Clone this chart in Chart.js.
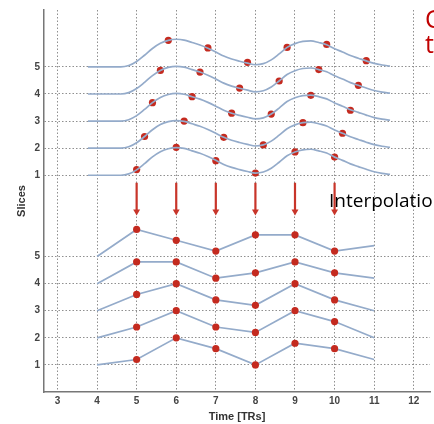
<!DOCTYPE html>
<html>
<head>
<meta charset="utf-8">
<script src="https://cdn.jsdelivr.net/npm/chart.js@4"></script>
<style>
  html, body { margin: 0; padding: 0; background: #fff; overflow: hidden; }
</style>
</head>
<body>
<canvas id="chart" width="434" height="424"></canvas>
<script>
// TR times at which a red sample is shown
const trTimes = [5, 6, 7, 8, 9, 10];
// acquisition delay of each slice within the TR (upper panel)
const sliceDelay = [0, 0.2, 0.4, 0.6, 0.8];
const slices = [1, 2, 3, 4, 5];

const curveX = [3.77, 4.3, 4.6, 4.8, 5.0, 5.2, 5.4, 5.6, 5.8, 6.0, 6.2, 6.4, 6.6, 6.8, 7.0, 7.2, 7.4, 7.6, 7.8,
                8.0, 8.2, 8.4, 8.6, 8.8, 9.0, 9.2, 9.4, 9.6, 9.8, 10.0, 10.2, 10.4, 10.6, 10.8, 11.0, 11.2, 11.4];
const curveY = [0, 0, 0, 0.05, 0.2, 0.43, 0.68, 0.87, 0.98, 1.02, 0.99, 0.9, 0.81, 0.69, 0.55, 0.4, 0.29, 0.21, 0.14,
                0.08, 0.12, 0.26, 0.48, 0.72, 0.86, 0.94, 0.96, 0.9, 0.82, 0.67, 0.55, 0.42, 0.32, 0.22, 0.13, 0.07, 0.03];

// sampled values (upper panel) per slice, in slice units
const sampled1 = [1.21, 2.03, 1.54, 1.08, 1.86, 1.67];
const sampled2 = [2.43, 3.0, 2.4, 2.12, 2.94, 2.55];
const sampled3 = [3.68, 3.9, 3.29, 3.26, 3.95, 3.4];
const sampled4 = [4.87, 4.81, 4.22, 4.48, 4.9, 4.32];
const sampled5 = [5.98, 5.7, 5.17, 5.72, 5.83, 5.23];
const sampledAll = [sampled1, sampled2, sampled3, sampled4, sampled5];

// interpolated values (lower panel), at TR 4..11
const interpX = [4, 5, 6, 7, 8, 9, 10, 11];
const interp1 = [1, 1.2, 2.0, 1.6, 1.0, 1.8, 1.6, 1.2];
const interp2 = [2, 2.4, 3.0, 2.4, 2.2, 3.0, 2.6, 2.0];
const interp3 = [3, 3.6, 4.0, 3.4, 3.2, 4.0, 3.4, 3.0];
const interp4 = [4, 4.8, 4.8, 4.2, 4.4, 4.8, 4.4, 4.2];
const interp5 = [5, 6.0, 5.6, 5.2, 5.8, 5.8, 5.2, 5.4];
const interpAll = [interp1, interp2, interp3, interp4, interp5];

// arrows between the panels
const arrowTop = 7.72;
const arrowBottom = 6.66;

// axis ticks
const xTickValues = [3, 4, 5, 6, 7, 8, 9, 10, 11, 12];
const yTickValues = [1, 2, 3, 4, 5, 8, 9, 10, 11, 12];
const yTickLabels = ['1', '2', '3', '4', '5', '1', '2', '3', '4', '5'];
const upperShift = 7; // upper panel sits 7 units above the lower one

const lineColor = '#94abca';
const dotColor = '#c42a1f';

const datasets = [];

// upper panel: smooth curves
slices.forEach(s => {
  datasets.push({
    data: curveX.map((x, i) => ({ x: x, y: curveY[i] + s + upperShift })),
    showLine: true,
    borderColor: lineColor,
    borderWidth: 1.7,
    pointRadius: 0,
    cubicInterpolationMode: 'monotone'
  });
});
// upper panel: staggered samples
slices.forEach((s, k) => {
  datasets.push({
    data: trTimes.map((t, i) => ({ x: t + sliceDelay[k], y: sampledAll[k][i] + upperShift })),
    showLine: false,
    backgroundColor: dotColor,
    borderColor: dotColor,
    pointRadius: 3.6,
    borderWidth: 0
  });
});
// lower panel: interpolated polylines
slices.forEach((s, k) => {
  datasets.push({
    data: interpX.map((x, i) => ({ x: x, y: interpAll[k][i] })),
    showLine: true,
    borderColor: lineColor,
    borderWidth: 1.7,
    backgroundColor: dotColor,
    pointBorderWidth: 0,
    pointRadius: interpX.map(x => trTimes.includes(x) ? 3.6 : 0)
  });
});
// arrows
trTimes.forEach(t => {
  datasets.push({
    data: [{ x: t, y: arrowTop }, { x: t, y: arrowBottom }],
    showLine: true,
    borderColor: '#c8352a',
    borderWidth: 2.2,
    backgroundColor: '#c8352a',
    pointStyle: 'triangle',
    rotation: 180,
    pointBorderWidth: 0,
    pointRadius: [0, 4]
  });
});

// free text from the slide
const slideText = {
  id: 'slideText',
  afterDraw(chart) {
    const ctx = chart.ctx;
    ctx.save();
    ctx.textBaseline = 'alphabetic';
    ctx.textAlign = 'left';
    ctx.fillStyle = '#000';
    ctx.font = '19px "Open Sans"';
    ctx.fillText('Interpolation', 329, 206.5);
    ctx.fillStyle = '#c00000';
    ctx.font = '25px "Open Sans"';
    ctx.fillText('C', 425, 28);
    ctx.fillText('t', 425, 53);
    ctx.restore();
  }
};

const gridDash = { display: true, color: '#777', width: 1.5, dash: [1.5, 2] };

document.fonts.load('19px "Open Sans"').then(() => {
  new Chart(document.getElementById('chart'), {
    type: 'scatter',
    data: { datasets: datasets },
    plugins: [slideText],
    options: {
      responsive: false,
      animation: false,
      events: [],
      layout: { padding: { top: 9, left: 0, right: 0, bottom: 0 } },
      plugins: { legend: { display: false }, tooltip: { enabled: false } },
      scales: {
        x: {
          type: 'linear',
          min: 2.66,
          max: 12.41,
          afterFit: scale => { scale.height = 32; },
          afterBuildTicks: scale => { scale.ticks = xTickValues.map(v => ({ value: v })); },
          grid: { color: '#8f8f8f', lineWidth: 1, drawTicks: false },
          border: gridDash,
          ticks: {
            padding: 3,
            color: '#444',
            font: { family: 'Liberation Sans', size: 10, weight: 'bold' },
            callback: v => String(v)
          },
          title: {
            display: true,
            text: 'Time [TRs]',
            color: '#333',
            padding: 0,
            font: { family: 'Liberation Sans', size: 11, weight: 'bold' }
          }
        },
        y: {
          type: 'linear',
          min: 0,
          max: 14.1,
          afterFit: scale => { scale.width = 44; },
          afterBuildTicks: scale => { scale.ticks = yTickValues.map(v => ({ value: v })); },
          grid: { color: '#8f8f8f', lineWidth: 1, drawTicks: false },
          border: gridDash,
          ticks: {
            padding: 4,
            color: '#444',
            font: { family: 'Liberation Sans', size: 10, weight: 'bold' },
            callback: v => yTickLabels[yTickValues.indexOf(v)]
          },
          title: {
            display: true,
            text: 'Slices',
            color: '#333',
            padding: { top: 15, bottom: 0 },
            font: { family: 'Liberation Sans', size: 11, weight: 'bold' }
          }
        }
      }
    }
  });
});
</script>
</body>
</html>
